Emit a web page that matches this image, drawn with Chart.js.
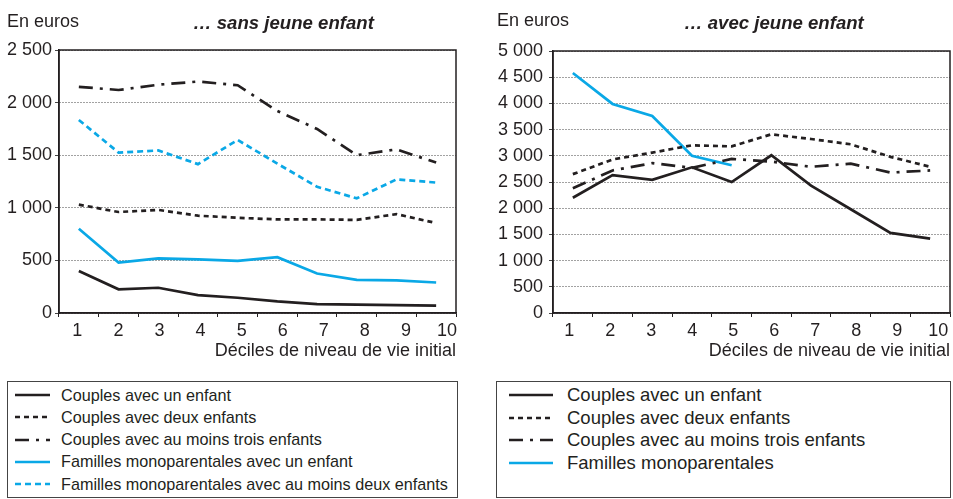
<!DOCTYPE html>
<html><head><meta charset="utf-8">
<script src="https://cdn.jsdelivr.net/npm/chart.js@4"></script>
<style>
html,body{margin:0;padding:0;background:#fff;}
body{width:953px;height:499px;position:relative;overflow:hidden;font-family:"Liberation Sans",Arial,Helvetica,sans-serif;color:#231f20;}
canvas{position:absolute;top:0;}
#cL{left:0;} #cR{left:480px;}
.unit{position:absolute;font-size:18px;line-height:18px;white-space:nowrap;}
.ttl{position:absolute;font-size:18.6px;line-height:18px;font-weight:bold;font-style:italic;white-space:nowrap;}
.leg{position:absolute;top:381px;height:117px;border:1px solid #444;box-sizing:border-box;}
.row{position:absolute;left:0;height:22px;display:flex;align-items:center;white-space:nowrap;}
.row svg{position:absolute;top:0;}
.row span{position:absolute;}
</style></head>
<body>
<canvas id="cL" width="470" height="370"></canvas>
<canvas id="cR" width="473" height="370"></canvas>
<div class="unit" style="left:7px;top:12px;">En euros</div>
<div class="unit" style="left:497px;top:11px;">En euros</div>
<div class="ttl" style="left:193px;top:14px;">… sans jeune enfant</div>
<div class="ttl" style="left:684px;top:14px;">… avec jeune enfant</div>
<div class="leg" id="legL" style="left:7px;width:451px;"></div>
<div class="leg" id="legR" style="left:496px;width:455px;"></div>
<script>
// ---- data ----
const deciles = ['1','2','3','4','5','6','7','8','9','10'];
const decileValues = [1,2,3,4,5,6,7,8,9,10];
const xTitle = 'Déciles de niveau de vie initial';

const yTicksSans = [0,500,1000,1500,2000,2500];
const yTicksAvec = [0,500,1000,1500,2000,2500,3000,3500,4000,4500,5000];

const namesSans = ['Couples avec un enfant','Couples avec deux enfants','Couples avec au moins trois enfants','Familles monoparentales avec un enfant','Familles monoparentales avec au moins deux enfants'];
const sansCouple1 = [400, 225, 240, 170, 145, 110, 85, 80, 75, 70];
const sansCouple2 = [1030, 960, 980, 925, 905, 890, 890, 885, 940, 855];
const sansCouple3 = [2150, 2120, 2170, 2200, 2165, 1920, 1750, 1500, 1555, 1430];
const sansMono1 = [800, 480, 520, 510, 495, 530, 375, 315, 310, 290];
const sansMono2 = [1835, 1525, 1545, 1415, 1645, 1420, 1200, 1090, 1270, 1240];

const namesAvec = ['Couples avec un enfant','Couples avec deux enfants','Couples avec au moins trois enfants','Familles monoparentales'];
const avecCouple1 = [2200, 2630, 2540, 2780, 2500, 3010, 2430, 1980, 1530, 1420];
const avecCouple2 = [2650, 2930, 3060, 3200, 3180, 3410, 3320, 3220, 2980, 2790];
const avecCouple3 = [2380, 2720, 2860, 2770, 2940, 2890, 2790, 2850, 2680, 2720];
const avecMono = [4580, 3990, 3760, 3000, 2820, null, null, null, null, null];

// ---- styles ----
const INK = '#231f20';
const BLUE = '#0aa8e6';
const styles = [
  {color: INK, dash: []},
  {color: INK, dash: [5,4]},
  {color: INK, dash: [14,7,3,7]},
  {color: BLUE, dash: []},
  {color: BLUE, dash: [6,4]}
];

Chart.defaults.font.family = "'Liberation Sans', Arial, Helvetica, sans-serif";
Chart.defaults.color = INK;

const fmt = v => String(v).replace(/\B(?=(\d{3})+(?!\d))/g, ' ');

const framePlugin = {
  id: 'frame',
  afterDraw(chart) {
    const {ctx, chartArea: a} = chart;
    ctx.save();
    ctx.strokeStyle = INK;
    ctx.lineWidth = 1.5;
    ctx.setLineDash([]);
    ctx.strokeRect(a.left, a.top, a.right - a.left, a.bottom - a.top);
    ctx.restore();
  }
};

function makeChart(id, names, series, yTicks, opt) {
  const datasets = series.map((d, i) => ({
    label: names[i],
    data: d,
    borderColor: styles[i].color,
    backgroundColor: styles[i].color,
    borderDash: styles[i].dash,
    borderWidth: 2.7,
    pointRadius: 0,
    tension: 0,
    fill: false,
    spanGaps: false,
    xAxisID: 'x',
    yAxisID: 'y'
  }));
  return new Chart(document.getElementById(id), {
    type: 'line',
    data: {labels: deciles, datasets},
    options: {
      responsive: false,
      animation: false,
      events: [],
      layout: {padding: opt.padding},
      plugins: {legend: {display: false}, tooltip: {enabled: false}},
      scales: {
        x: {
          type: 'category', position: 'bottom', offset: true, weight: 0,
          grid: {offset: true, drawOnChartArea: false, drawTicks: true, tickLength: 4, color: INK, lineWidth: 1},
          border: {display: true, color: INK, width: 1.5},
          ticks: {display: false},
          afterFit: s => { s.height = 5; }
        },
        x2: {
          type: 'linear', position: 'bottom', weight: 1,
          min: opt.x2min, max: opt.x2max, bounds: 'data',
          grid: {display: false, drawTicks: false},
          border: {display: false},
          ticks: {padding: 2, font: {size: 18}, color: INK, maxRotation: 0, autoSkip: false,
            callback: v => { const k = decileValues.indexOf(v); return k >= 0 ? deciles[k] : ''; }},
          afterBuildTicks: s => { s.ticks = decileValues.map(v => ({value: v})); },
          title: {display: true, text: xTitle, align: 'end', font: {size: 18}, color: INK, padding: {top: 0, bottom: 8}},
          afterFit: s => { s.height = 52; }
        },
        y: {
          type: 'linear', position: 'left',
          min: yTicks[0], max: yTicks[yTicks.length - 1],
          ticks: {stepSize: yTicks[1] - yTicks[0], padding: opt.ypad, font: {size: 18}, color: INK, callback: v => fmt(v)},
          grid: {color: '#444', lineWidth: 1, drawTicks: true, tickLength: 4},
          border: {display: true, color: INK, width: 1.5, dash: [1,2]},
          afterFit: s => { s.width = opt.yWidth; }
        }
      }
    },
    plugins: [framePlugin]
  });
}

makeChart('cL', namesSans, [sansCouple1, sansCouple2, sansCouple3, sansMono1, sansMono2], yTicksSans,
  {padding: {left: 0, top: 50, right: 14, bottom: 0}, yWidth: 59, ypad: 3, x2min: 0.5545, x2max: 10.218});
makeChart('cR', namesAvec, [avecCouple1, avecCouple2, avecCouple3, avecMono], yTicksAvec,
  {padding: {left: 0, top: 51, right: 3, bottom: 0}, yWidth: 73, ypad: 6, x2min: 0.6024, x2max: 10.285});

// ---- HTML legends ----
function makeLegend(id, names, o) {
  const box = document.getElementById(id);
  names.forEach((n, i) => {
    const row = document.createElement('div');
    row.className = 'row';
    row.style.top = (o.first + i * o.step - 11 - 1) + 'px';
    row.style.width = '100%';
    const st = styles[i];
    row.innerHTML = '<svg width="' + o.lineW + '" height="22" style="left:' + o.lineX + 'px">' +
      '<line x1="0" y1="11" x2="' + o.lineW + '" y2="11" stroke="' + st.color + '" stroke-width="2.5" stroke-dasharray="' + (st.dash.length ? st.dash.join(',') : 'none') + '"/></svg>' +
      '<span style="left:' + o.textX + 'px;font-size:' + o.fs + 'px;">' + n + '</span>';
    box.appendChild(row);
  });
}
makeLegend('legL', namesSans, {first: 14, step: 22.3, lineX: 7, lineW: 35, textX: 53, fs: 16.2});
makeLegend('legR', namesAvec, {first: 14, step: 22.6, lineX: 12, lineW: 44, textX: 70, fs: 18.5});
</script>
</body></html>
